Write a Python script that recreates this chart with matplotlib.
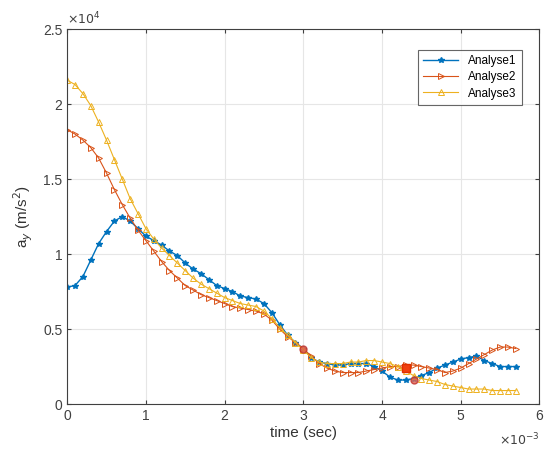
import numpy as np
import matplotlib.pyplot as plt

plt.rcParams['font.family'] = ['Liberation Sans', 'DejaVu Sans']

# time in ms (x 1e-3 s), acceleration in 1e4 m/s^2
t = np.round(np.arange(58) * 0.1, 1)

analyse1 = [0.78, 0.79, 0.85, 0.96, 1.07, 1.15, 1.22, 1.25, 1.22, 1.17,
            1.12, 1.09, 1.06, 1.02, 0.99, 0.94, 0.90, 0.87, 0.83, 0.79,
            0.77, 0.75, 0.72, 0.71, 0.70, 0.67, 0.61, 0.53, 0.46, 0.41,
            0.37, 0.31, 0.28, 0.27, 0.26, 0.26, 0.27, 0.27, 0.27, 0.25,
            0.22, 0.18, 0.16, 0.16, 0.17, 0.19, 0.21, 0.24, 0.26, 0.28,
            0.30, 0.31, 0.32, 0.29, 0.27, 0.25, 0.25, 0.25]
analyse2 = [1.83, 1.80, 1.76, 1.71, 1.64, 1.54, 1.43, 1.33, 1.24, 1.16,
            1.09, 1.02, 0.95, 0.89, 0.84, 0.79, 0.76, 0.73, 0.71, 0.69,
            0.67, 0.65, 0.64, 0.63, 0.62, 0.60, 0.56, 0.50, 0.45, 0.41,
            0.37, 0.32, 0.27, 0.24, 0.22, 0.21, 0.21, 0.21, 0.22, 0.23,
            0.24, 0.25, 0.25, 0.26, 0.26, 0.25, 0.24, 0.23, 0.21, 0.22,
            0.24, 0.27, 0.30, 0.33, 0.36, 0.38, 0.38, 0.37]
analyse3 = [2.16, 2.13, 2.07, 1.99, 1.88, 1.76, 1.63, 1.50, 1.37, 1.27,
            1.17, 1.10, 1.04, 0.99, 0.94, 0.89, 0.84, 0.80, 0.77, 0.74,
            0.71, 0.69, 0.67, 0.66, 0.65, 0.62, 0.57, 0.51, 0.46, 0.41,
            0.36, 0.31, 0.28, 0.27, 0.27, 0.27, 0.28, 0.28, 0.29, 0.29,
            0.28, 0.27, 0.25, 0.22, 0.19, 0.17, 0.16, 0.15, 0.13, 0.12,
            0.11, 0.10, 0.10, 0.10, 0.09, 0.09, 0.09, 0.09]

# highlighted points
sq_t, sq_v = [4.3], [0.24]
circ_t, circ_v = [3.0, 4.4], [0.37, 0.16]

c1, c2, c3 = '#0072BD', '#D95319', '#EDB120'

fig = plt.figure(figsize=(5.46, 4.55), dpi=100)
ax = fig.add_axes([0.123, 0.112, 0.865, 0.824])

ax.plot(t, analyse1, '-*', color=c1, lw=1, ms=4, label='Analyse1')
ax.plot(t, analyse2, '->', color=c2, lw=0.8, ms=4, mfc='none', mew=0.7, label='Analyse2')
ax.plot(t, analyse3, '-^', color=c3, lw=0.8, ms=4, mfc='none', mew=0.7, label='Analyse3')
ax.plot(sq_t, sq_v, 's', color='#F04010', ms=6, mec='#E03000')
ax.plot(circ_t, circ_v, 'o', color='#C0302A', ms=5, mfc='#E06050', alpha=0.8)

ax.set_xlim(0, 6)
ax.set_ylim(0, 2.5)
ax.set_xticks([0, 1, 2, 3, 4, 5, 6])
ax.set_yticks([0, 0.5, 1, 1.5, 2, 2.5])
ax.set_yticklabels(['0', '0.5', '1', '1.5', '2', '2.5'])
ax.grid(True, color='#e6e6e6', lw=0.8)
ax.set_axisbelow(True)
ax.tick_params(direction='in', labelsize=10, colors='#404040', length=3,
               top=True, right=True)
for s in ax.spines.values():
    s.set_color('#404040')
    s.set_linewidth(0.8)

ax.set_xlabel('time (sec)', fontsize=11, color='#333333', labelpad=2)
ax.set_ylabel(r'a$_y$ (m/s$^2$)', fontsize=11, color='#333333', labelpad=6)
ax.text(0.0, 1.005, r'$\times10^{4}$', transform=ax.transAxes, fontsize=9,
        color='#404040', ha='left', va='bottom')
ax.text(1.0, -0.075, r'$\times10^{-3}$', transform=ax.transAxes, fontsize=9,
        color='#404040', ha='right', va='top')

leg = ax.legend(loc='upper right', bbox_to_anchor=(0.975, 0.96), fontsize=8.5,
                fancybox=False, edgecolor='#404040', handlelength=3.0,
                borderpad=0.45, labelspacing=0.35)
leg.get_frame().set_linewidth(0.8)

fig.savefig('out.png', dpi=100)
